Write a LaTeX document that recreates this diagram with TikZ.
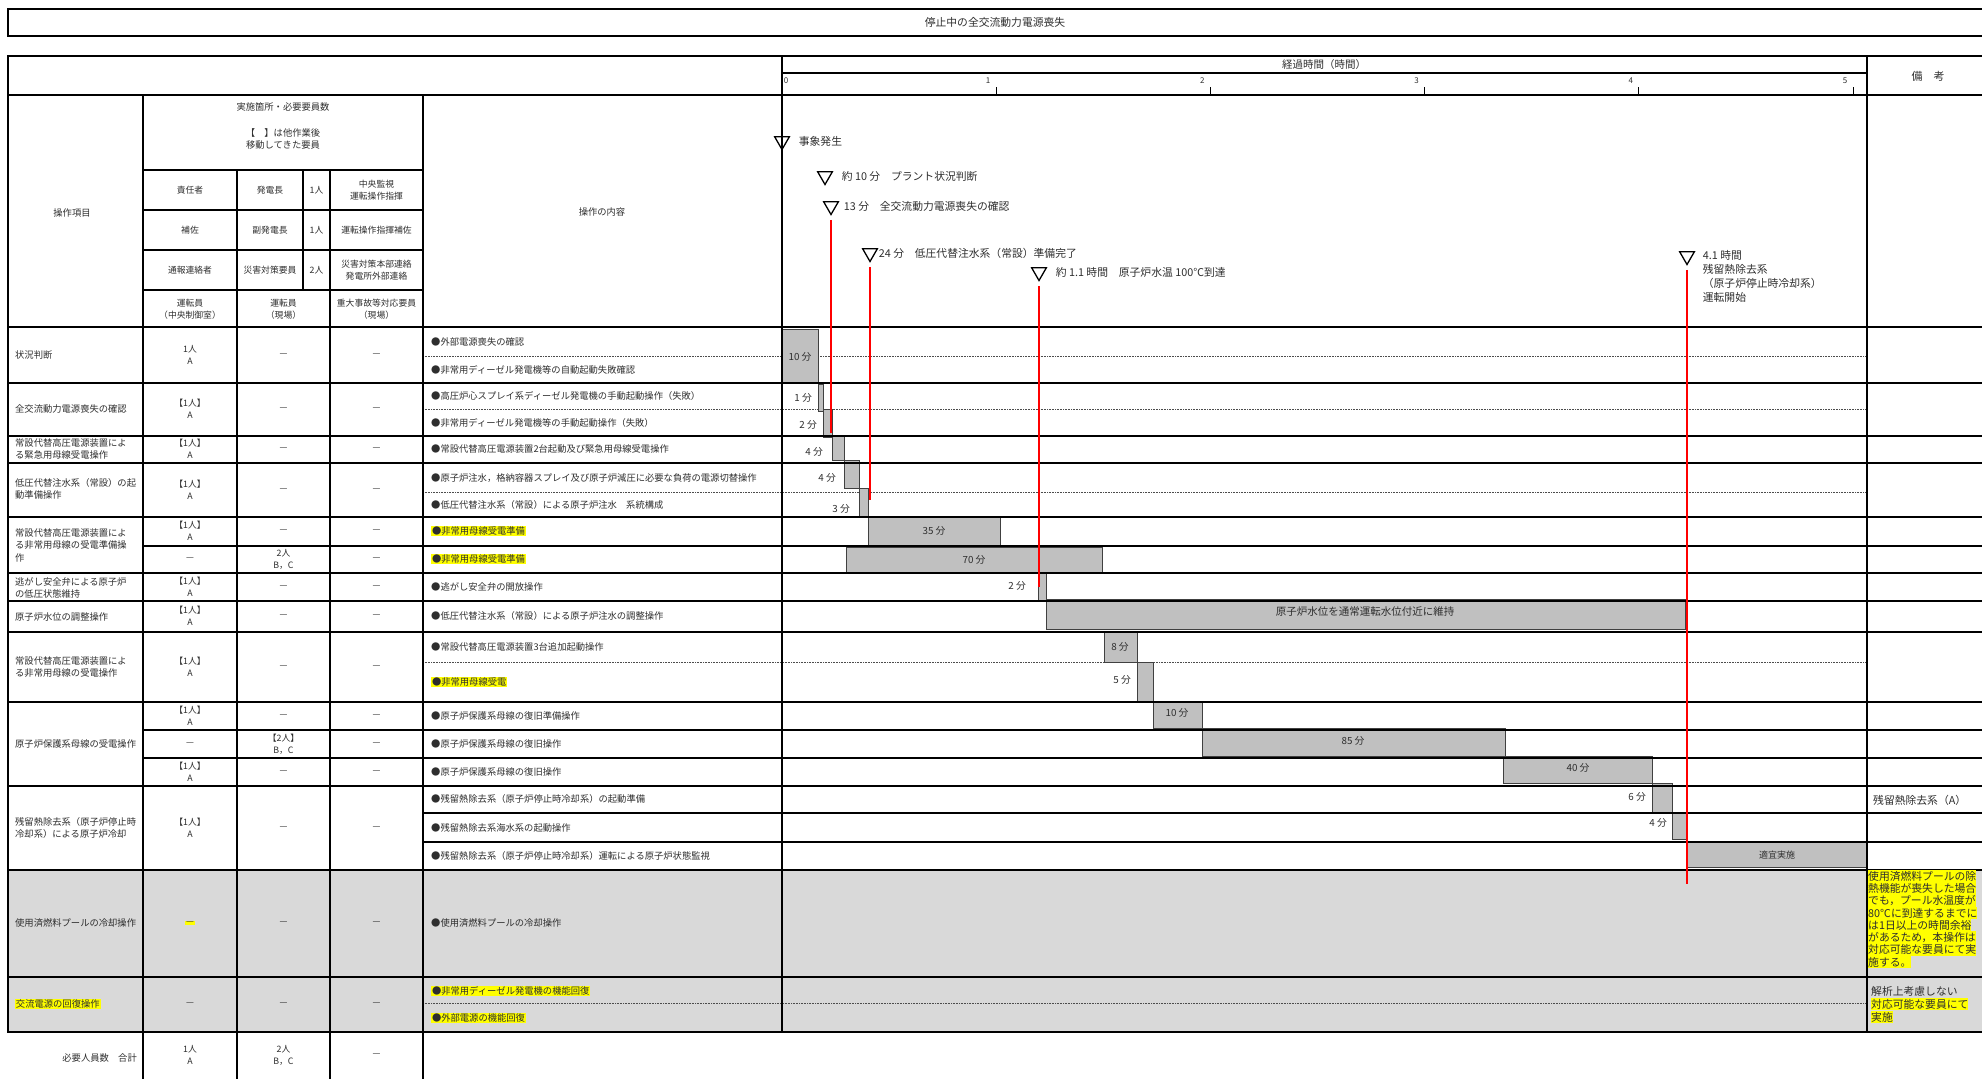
\documentclass[tikz,border=0pt]{standalone}
\usepackage{fontspec}
\setmainfont{Noto Sans CJK JP}
\usetikzlibrary{positioning,shapes.geometric}
\definecolor{barfill}{HTML}{C0C0C0}
\definecolor{rowgray}{HTML}{D9D9D9}
\definecolor{hilite}{HTML}{FFFF00}
\definecolor{evred}{HTML}{FF0000}
\definecolor{ink}{HTML}{2E2E2E}

\begin{document}
\begin{tikzpicture}[%
    x=1pt, y=-1pt,        % one unit is one pixel of the sheet, y runs downwards
    font=\fontsize{9.3}{12.5}\selectfont,
    ]
% -------------------------------------------------
% Rules, cells, bars and event marks
\tikzset{
  frame/.style={line width=2.6pt},
  rule/.style={line width=1.7pt},
  vrule/.style={line width=1.3pt},
  dotrule/.style={densely dotted, line width=0.6pt, black!70},
  cell/.style={inner sep=0pt, align=center, text=ink},
  pcell/.style={cell, font=\fontsize{8.8}{12}\selectfont},
  item/.style={inner sep=0pt, anchor=west, align=left, text=ink},
  hl/.style={fill=hilite, inner sep=0.8pt},
  bar/.style={draw=black!75, fill=barfill, line width=0.9pt},
  barlabel/.style={inner sep=0pt, font=\fontsize{9.8}{12}\selectfont, text=ink},
  sidelabel/.style={barlabel, anchor=east},
  evmark/.style={draw, regular polygon, regular polygon sides=3,
    shape border rotate=180, minimum size=17pt, inner sep=0pt, line width=1.3pt},
  evtext/.style={inner sep=0pt, align=left, text=ink, font=\fontsize{10.8}{14}\selectfont},
  redline/.style={evred, line width=2.2pt, shorten <=4pt},
  remark/.style={inner sep=0pt, anchor=west, text=ink, font=\fontsize{10.8}{12.3}\selectfont},
}
\useasboundingbox (0,0) rectangle (1982,1079);
\clip (0,0) rectangle (1982,1079);

% -------------------------------------------------
% Title box
\draw[frame] (8,9) rectangle (2000,36);
\node[cell, font=\fontsize{10.8}{12}\selectfont] (title) at (995,22.5) {停止中の全交流動力電源喪失};

% -------------------------------------------------
% Shaded rows and dotted sub-row lines
\fill[rowgray] (8,870) rectangle (2000,1032);
\foreach \y in {356,409,492,662,1003}
  \draw[dotrule] (423,\y) -- (1867,\y);

% -------------------------------------------------
% Gantt bars
\draw[bar] (782,329) rectangle (818,383);   \node[barlabel] (b1) at (800,357) {10 分};
\draw[bar] (818,384) rectangle (823,411);   \node[sidelabel] (b2a) at (812,398) {1 分};
\draw[bar] (823,409) rectangle (832,437);   \node[sidelabel] (b2b) at (817,425) {2 分};
\draw[bar] (832,436) rectangle (844,460);   \node[sidelabel] (b3) at (823,452) {4 分};
\draw[bar] (844,460) rectangle (859,488);   \node[sidelabel] (b4a) at (836,478) {4 分};
\draw[bar] (859,488) rectangle (868,517);   \node[sidelabel] (b4b) at (850,509) {3 分};
\draw[bar] (868,517) rectangle (1000,545);  \node[barlabel] (b5a) at (934,531) {35 分};
\draw[bar] (846,547) rectangle (1102,573);  \node[barlabel] (b5b) at (974,560) {70 分};
\draw[bar] (1038,573) rectangle (1046,600); \node[sidelabel] (b6) at (1026,586) {2 分};
\draw[bar] (1046,599) rectangle (1685,629);
\node[barlabel, font=\fontsize{10.5}{12}\selectfont] (b7) at (1365,612) {原子炉水位を通常運転水位付近に維持};
\draw[bar] (1104,632) rectangle (1137,662); \node[barlabel] (b8a) at (1120,647) {8 分};
\draw[bar] (1137,662) rectangle (1153,702); \node[sidelabel] (b8b) at (1131,680) {5 分};
\draw[bar] (1153,701) rectangle (1202,728); \node[barlabel] (b9a) at (1177,713) {10 分};
\draw[bar] (1202,728) rectangle (1505,756); \node[barlabel] (b9b) at (1353,741) {85 分};
\draw[bar] (1503,756) rectangle (1652,783); \node[barlabel] (b9c) at (1578,768) {40 分};
\draw[bar] (1652,783) rectangle (1672,812); \node[sidelabel] (b10a) at (1646,797) {6 分};
\draw[bar] (1672,812) rectangle (1687,839); \node[sidelabel] (b10b) at (1667,823) {4 分};
\draw[bar] (1687,841) rectangle (1866,867);
\node[barlabel, font=\fontsize{9}{10}\selectfont] (b10c) at (1777,855) {適宜実施};

% -------------------------------------------------
% Table rules
\draw[frame] (2000,56) -- (8,56) -- (8,1032) -- (2000,1032);
\draw[frame] (8,95) -- (2000,95);
\foreach \y in {327,383,436,463,517,573,601,632,702,786,870,977}
  \draw[rule] (8,\y) -- (2000,\y);
\foreach \y in {546,730,758}
  \draw[rule] (143,\y) -- (2000,\y);
\foreach \y in {813,842}
  \draw[rule] (423,\y) -- (2000,\y);
\foreach \y in {170,210,250,290}
  \draw[rule] (143,\y) -- (423,\y);
\draw[vrule] (143,95) -- (143,1079);
\draw[vrule] (237,170) -- (237,1079);
\draw[vrule] (303,170) -- (303,290);
\draw[vrule] (330,170) -- (330,1079);
\draw[vrule] (423,95) -- (423,1079);
\draw[vrule] (782,56) -- (782,1032);
\draw[vrule] (1867,56) -- (1867,1032);

% -------------------------------------------------
% Time scale header
\draw[rule] (782,73) -- (1867,73);
\node[cell, font=\fontsize{10.5}{12}\selectfont] (elapsed) at (1324,65) {経過時間（時間）};
\node[cell, font=\fontsize{8}{9}\selectfont] (t0) at (786,81) {0};
\foreach \h in {1,...,5} {
  \draw[line width=0.9pt] ({782+214.2*\h},87) -- ({782+214.2*\h},95);
  \node[cell, font=\fontsize{8}{9}\selectfont] (t\h) at ({774+214.2*\h},81) {\h};
}
\node[cell, font=\fontsize{11}{12}\selectfont] (biko) at (1928,76) {備　考};

% -------------------------------------------------
% Column heads
\node[cell] (opitem) at (72,213) {操作項目};
\node[cell] (site) at (283,107) {実施箇所・必要要員数};
\node[cell] (moved) at (283,139) {【　】は他作業後\\移動してきた要員};
\node[pcell] (resp) at (190,190) {責任者};
\node[pcell] (chief) at (270,190) {発電長};
\node[pcell] (n1) at (316.5,190) {1人};
\node[pcell] (role1) at (376.5,190) {中央監視\\運転操作指揮};
\node[pcell] (assist) at (190,230) {補佐};
\node[pcell] (vchief) at (270,230) {副発電長};
\node[pcell] (n2) at (316.5,230) {1人};
\node[pcell] (role2) at (376.5,230) {運転操作指揮補佐};
\node[pcell] (report) at (190,270) {通報連絡者};
\node[pcell] (disaster) at (270,270) {災害対策要員};
\node[pcell] (n3) at (316.5,270) {2人};
\node[pcell] (role3) at (376.5,270) {災害対策本部連絡\\発電所外部連絡};
\node[pcell] (opc) at (190,309) {運転員\\（中央制御室）};
\node[pcell] (opf) at (283.5,309) {運転員\\（現場）};
\node[pcell] (sa) at (376.5,309) {重大事故等対応要員\\（現場）};
\node[cell] (content) at (602,212) {操作の内容};

% -------------------------------------------------
% Operation items
\node[item] (i1) at (15,355) {状況判断};
\node[item] (i2) at (15,409) {全交流動力電源喪失の確認};
\node[item] (i3) at (15,449) {常設代替高圧電源装置によ\\る緊急用母線受電操作};
\node[item] (i4) at (15,489) {低圧代替注水系（常設）の起\\動準備操作};
\node[item] (i5) at (15,545) {常設代替高圧電源装置によ\\る非常用母線の受電準備操\\作};
\node[item] (i6) at (15,588) {逃がし安全弁による原子炉\\の低圧状態維持};
\node[item] (i7) at (15,617) {原子炉水位の調整操作};
\node[item] (i8) at (15,667) {常設代替高圧電源装置によ\\る非常用母線の受電操作};
\node[item] (i9) at (15,744) {原子炉保護系母線の受電操作};
\node[item] (i10) at (15,828) {残留熱除去系（原子炉停止時\\冷却系）による原子炉冷却};
\node[item] (i11) at (15,923) {使用済燃料プールの冷却操作};
\node[item, hl] (i12) at (15,1004) {交流電源の回復操作};
\node[item, anchor=east] (total) at (137,1058) {必要人員数　合計};

% -------------------------------------------------
% Staff per row: central room / field / severe accident crew
\foreach \y/\pa/\pb/\pc [count=\k] in {
    355/{1人\\A}/—/—, 409/{【1人】\\A}/—/—, 449/{【1人】\\A}/—/—,
    490/{【1人】\\A}/—/—, 531/{【1人】\\A}/—/—, 559/—/{2人\\B，C}/—,
    587/{【1人】\\A}/—/—, 616/{【1人】\\A}/—/—, 667/{【1人】\\A}/—/—,
    716/{【1人】\\A}/—/—, 744/—/{【2人】\\B，C}/—, 772/{【1人】\\A}/—/—,
    828/{【1人】\\A}/—/—, 1004/—/—/—, 1055/{1人\\A}/{2人\\B，C}/—} {
  \node[pcell] (pa\k) at (190,\y) {\pa};
  \node[pcell] (pb\k) at (283.5,\y) {\pb};
  \node[pcell] (pc\k) at (376.5,\y) {\pc};
}
\node[pcell, hl] (pool1) at (190,923) {—};
\node[pcell] (pool2) at (283.5,923) {—};
\node[pcell] (pool3) at (376.5,923) {—};

% -------------------------------------------------
% Operation contents
\node[item] (c1a) at (431,342) {●外部電源喪失の確認};
\node[item] (c1b) at (431,370) {●非常用ディーゼル発電機等の自動起動失敗確認};
\node[item] (c2a) at (431,396) {●高圧炉心スプレイ系ディーゼル発電機の手動起動操作（失敗）};
\node[item] (c2b) at (431,423) {●非常用ディーゼル発電機等の手動起動操作（失敗）};
\node[item] (c3) at (431,449) {●常設代替高圧電源装置2台起動及び緊急用母線受電操作};
\node[item] (c4a) at (431,478) {●原子炉注水，格納容器スプレイ及び原子炉減圧に必要な負荷の電源切替操作};
\node[item] (c4b) at (431,505) {●低圧代替注水系（常設）による原子炉注水　系統構成};
\node[item, hl] (c5a) at (431,531) {●非常用母線受電準備};
\node[item, hl] (c5b) at (431,559) {●非常用母線受電準備};
\node[item] (c6) at (431,587) {●逃がし安全弁の開放操作};
\node[item] (c7) at (431,616) {●低圧代替注水系（常設）による原子炉注水の調整操作};
\node[item] (c8a) at (431,647) {●常設代替高圧電源装置3台追加起動操作};
\node[item, hl] (c8b) at (431,682) {●非常用母線受電};
\node[item] (c9a) at (431,716) {●原子炉保護系母線の復旧準備操作};
\node[item] (c9b) at (431,744) {●原子炉保護系母線の復旧操作};
\node[item] (c9c) at (431,772) {●原子炉保護系母線の復旧操作};
\node[item] (c10a) at (431,799) {●残留熱除去系（原子炉停止時冷却系）の起動準備};
\node[item] (c10b) at (431,828) {●残留熱除去系海水系の起動操作};
\node[item] (c10c) at (431,856) {●残留熱除去系（原子炉停止時冷却系）運転による原子炉状態監視};
\node[item] (c11) at (431,923) {●使用済燃料プールの冷却操作};
\node[item, hl] (c12a) at (431,991) {●非常用ディーゼル発電機の機能回復};
\node[item, hl] (c12b) at (431,1018) {●外部電源の機能回復};

% -------------------------------------------------
% Remarks
\node[remark] (rhr) at (1873,800) {残留熱除去系（A）};
\foreach \txt [count=\k] in {使用済燃料プールの除, 熱機能が喪失した場合,
    でも，プール水温度が, 80℃に到達するまでに, は1日以上の時間余裕,
    があるため，本操作は, 対応可能な要員にて実, 施する。}
  \node[remark, fill=hilite, minimum height=12.3pt] (pool\k) at (1868,{863.7+12.3*\k}) {\txt};
\node[remark] (noanal) at (1871,991) {解析上考慮しない};
\node[remark, fill=hilite, minimum height=12.5pt] (acta) at (1871,1004) {対応可能な要員にて};
\node[remark, fill=hilite, minimum height=12.5pt] (actb) at (1871,1017) {実施};

% -------------------------------------------------
% Event marks and their red guide lines
\node[evmark] (ev0) at (782,141) {};
\node[evtext, right=11pt of ev0] (ev0t) {事象発生};
\node[evmark] (ev10) at (825,176) {};
\node[evtext, right=11pt of ev10] (ev10t) {約 10 分　プラント状況判断};
\node[evmark] (ev13) at (831,206) {};
\node[evtext, right=7pt of ev13] (ev13t) {13 分　全交流動力電源喪失の確認};
\node[evmark] (ev24) at (870,253) {};
\node[evtext, right=3pt of ev24] (ev24t) {24 分　低圧代替注水系（常設）準備完了};
\node[evmark] (ev66) at (1039,272) {};
\node[evtext, right=11pt of ev66] (ev66t) {約 1.1 時間　原子炉水温 100℃到達};
\node[evmark] (ev246) at (1687,256) {};
\node[evtext, right=10pt of ev246, anchor=north west, yshift=6pt] (ev246t)
  {4.1 時間\\残留熱除去系\\（原子炉停止時冷却系）\\運転開始};

\coordinate (r13) at (831,433);
\coordinate (r24) at (870,500);
\coordinate (r66) at (1039,587);
\coordinate (r246) at (1687,884);
\draw[redline] (ev13.south) -- (r13);
\draw[redline] (ev24.south) -- (r24);
\draw[redline] (ev66.south) -- (r66);
\draw[redline] (ev246.south) -- (r246);

% -------------------------------------------------
\end{tikzpicture}
\end{document}
